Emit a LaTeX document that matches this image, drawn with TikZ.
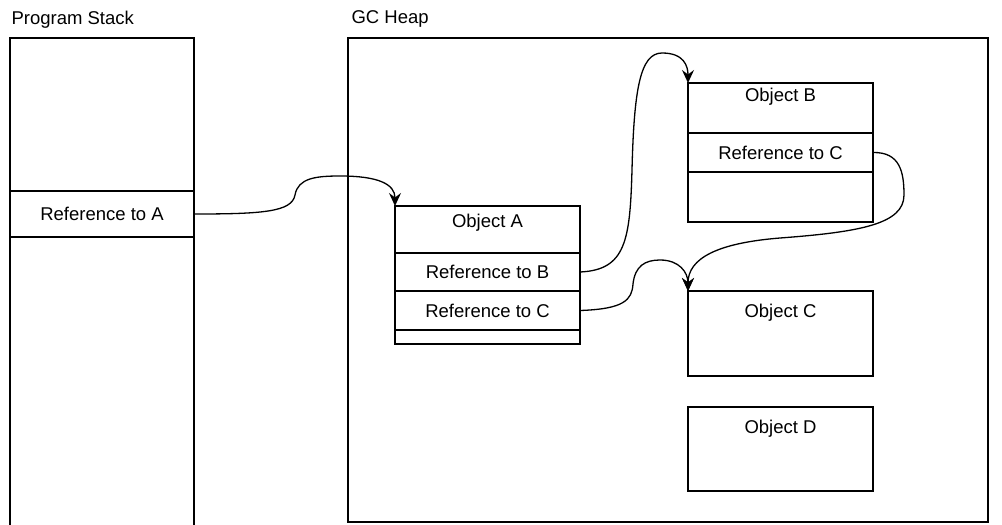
\documentclass[tikz,border=0pt]{standalone}
\usepackage{fontspec}
\setmainfont{Liberation Sans}
\usetikzlibrary{arrows.meta}
\begin{document}
\begin{tikzpicture}[x=1pt,y=-1pt,
  line width=1.2pt,
  box/.style={draw=black, inner sep=0pt, outer sep=0pt, anchor=north west},
  txt/.style={font=\fontsize{18.5}{21}\selectfont, inner sep=0pt},
  conn/.style={draw=black, line width=1.3pt, -{Stealth[length=13pt,width=12pt,inset=4.5pt]}}
]
\useasboundingbox (0,0) rectangle (1002,525);
% titles
\node[txt, anchor=west] (tstack) at (11,20) {Program Stack};
\node[txt, anchor=west] (theap) at (351,19) {GC Heap};
% program stack (open at the bottom)
\draw (10,525) -- (10,38) -- (194,38) -- (194,525);
\node[box, minimum width=184pt, minimum height=46pt] (ra) at (10,191) {};
\node[txt] (raT) at (ra.center) {Reference to A};
% GC heap
\node[box, minimum width=640pt, minimum height=484pt] (heap) at (348,38) {};
% Object A
\node[box, minimum width=185pt, minimum height=47pt] (oa) at (395,206) {};
\node[txt] (oaT) at (487.5,223) {Object A};
\node[box, minimum width=185pt, minimum height=38pt] (oarb) at (395,253) {};
\node[txt] (oarbT) at (oarb.center) {Reference to B};
\node[box, minimum width=185pt, minimum height=39pt] (oarc) at (395,291) {};
\node[txt] (oarcT) at (oarc.center) {Reference to C};
\node[box, minimum width=185pt, minimum height=14pt] (oae) at (395,330) {};
% Object B
\node[box, minimum width=185pt, minimum height=50pt] (ob) at (688,83) {};
\node[txt] (obT) at (780.5,97) {Object B};
\node[box, minimum width=185pt, minimum height=39pt] (obrc) at (688,133) {};
\node[txt] (obrcT) at (obrc.center) {Reference to C};
\node[box, minimum width=185pt, minimum height=50pt] (obe) at (688,172) {};
% Object C, D
\node[box, minimum width=185pt, minimum height=85pt] (oc) at (688,291) {};
\node[txt] (ocT) at (780.5,313) {Object C};
\node[box, minimum width=185pt, minimum height=84pt] (od) at (688,407) {};
\node[txt] (odT) at (780.5,429) {Object D};
% connectors
\draw[conn] (ra.east) .. controls (262,214) and (292,212) .. (295,195)
  .. controls (298,178) and (316,176) .. (340,176)
  .. controls (378,176) and (395,184) .. (oa.north west);
\draw[conn] (oarb.east) .. controls (626,270) and (630,240) .. (632,170)
  .. controls (634,90) and (640,53) .. (662,53)
  .. controls (684,53) and (688,66) .. (ob.north west);
\draw[conn] (oarc.east) .. controls (624,309) and (632,300) .. (633,284)
  .. controls (635,266) and (645,260) .. (660,260)
  .. controls (679,260) and (688,272) .. (oc.north west);
\draw[conn] (obrc.east) .. controls (900,152) and (904,172) .. (904,195)
  .. controls (904,224) and (860,232) .. (780,238)
  .. controls (718,243) and (688,258) .. (oc.north west);
\end{tikzpicture}
\end{document}
